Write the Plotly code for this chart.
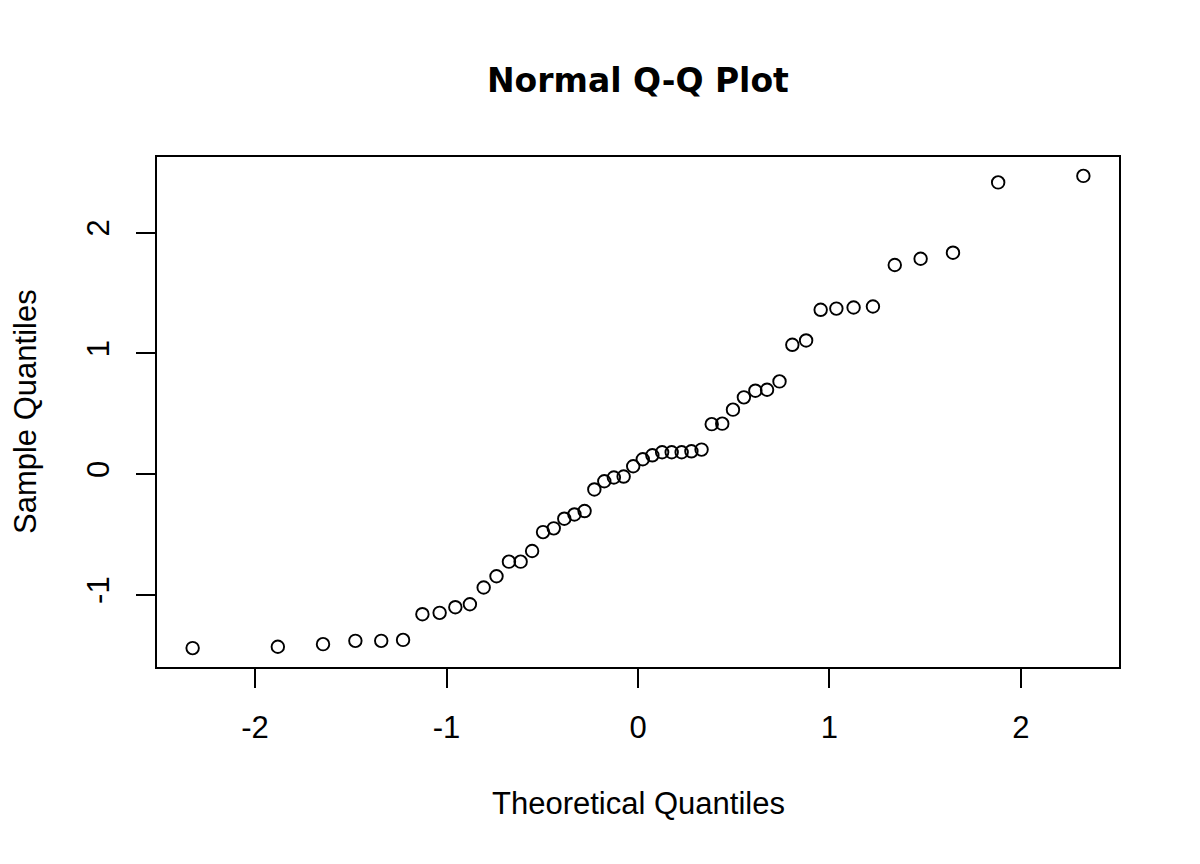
import plotly.graph_objects as go

# theoretical normal quantiles (x) and sorted sample values (y)
theoretical = [
    -2.326, -1.881, -1.645, -1.476, -1.341, -1.227, -1.126, -1.036, -0.954, -0.878,
    -0.806, -0.739, -0.674, -0.613, -0.553, -0.496, -0.440, -0.385, -0.332, -0.279,
    -0.228, -0.176, -0.126, -0.075, -0.025, 0.025, 0.075, 0.126, 0.176, 0.228,
    0.279, 0.332, 0.385, 0.440, 0.496, 0.553, 0.613, 0.674, 0.739, 0.806,
    0.878, 0.954, 1.036, 1.126, 1.227, 1.341, 1.476, 1.645, 1.881, 2.326,
]
sample = [
    -1.442, -1.431, -1.409, -1.382, -1.382, -1.374, -1.161, -1.150, -1.103, -1.079,
    -0.940, -0.847, -0.726, -0.726, -0.638, -0.481, -0.450, -0.370, -0.335, -0.307,
    -0.128, -0.060, -0.029, -0.021, 0.064, 0.122, 0.155, 0.180, 0.180, 0.180,
    0.188, 0.202, 0.413, 0.417, 0.533, 0.635, 0.690, 0.698, 0.767, 1.070,
    1.106, 1.360, 1.370, 1.379, 1.387, 1.731, 1.783, 1.833, 2.415, 2.469,
]
x_ticks = [-2, -1, 0, 1, 2]
y_ticks = [-1, 0, 1, 2]


def padded(vals, frac=0.04):
    lo, hi = min(vals), max(vals)
    pad = (hi - lo) * frac
    return [lo - pad, hi + pad]


font = "Liberation Sans, Arial, sans-serif"

fig = go.Figure()
fig.add_trace(go.Scatter(
    x=theoretical,
    y=sample,
    mode="markers",
    marker=dict(symbol="circle-open", size=12.5, color="black",
                line=dict(color="black", width=1.9)),
    hoverinfo="x+y",
))

axis_common = dict(
    showgrid=False,
    zeroline=False,
    showline=True,
    linecolor="black",
    linewidth=2,
    mirror=True,
    ticks="outside",
    ticklen=19,
    tickwidth=2,
    tickcolor="black",
    tickfont=dict(family=font, size=31, color="black"),
)

fig.update_xaxes(
    range=padded(theoretical),
    tickmode="array",
    tickvals=x_ticks,
    ticktext=[str(v) for v in x_ticks],
    ticklabelstandoff=13,
    **axis_common
)
fig.update_yaxes(
    range=padded(sample),
    tickmode="array",
    tickvals=y_ticks,
    ticktext=[str(v) for v in y_ticks],
    tickangle=-90,
    ticklabelstandoff=15,
    **axis_common
)

# page body has an 8px margin, so the margins are shifted to keep the plot box in place
fig.update_layout(
    width=1200,
    height=864,
    plot_bgcolor="white",
    paper_bgcolor="white",
    showlegend=False,
    margin=dict(l=149, r=89, t=149, b=205),
    annotations=[
        dict(text="<b>Normal Q-Q Plot</b>", xref="paper", yref="paper",
             x=0.5, y=(667 - 80) / 510, xanchor="center", yanchor="middle",
             showarrow=False, font=dict(family="DejaVu Sans", size=33, color="black")),
        dict(text="Theoretical Quantiles", xref="paper", yref="paper",
             x=0.5, y=(667 - 803) / 510, xanchor="center", yanchor="middle",
             showarrow=False, font=dict(family=font, size=31, color="black")),
        dict(text="Sample Quantiles", xref="paper", yref="paper",
             x=(25 - 157) / 962, y=(667 - 412) / 510, textangle=-90,
             xanchor="center", yanchor="middle",
             showarrow=False, font=dict(family=font, size=31, color="black")),
    ],
)

fig.write_html("out.html")
